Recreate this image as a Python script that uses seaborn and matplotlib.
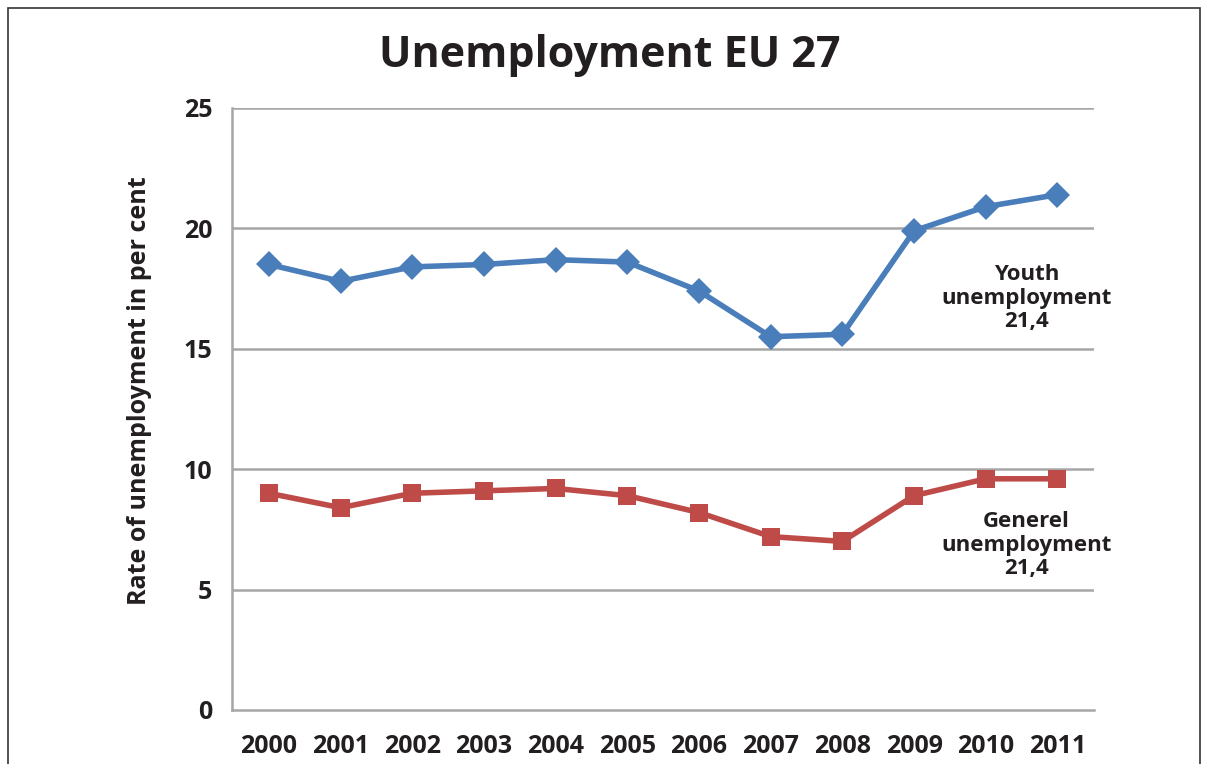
import pandas as pd
import matplotlib.pyplot as plt
import seaborn as sns
from matplotlib.patches import Rectangle

# Data
years = [2000, 2001, 2002, 2003, 2004, 2005, 2006, 2007, 2008, 2009, 2010, 2011]
youth = [18.5, 17.8, 18.4, 18.5, 18.7, 18.6, 17.4, 15.5, 15.6, 19.9, 20.9, 21.4]
general = [9.0, 8.4, 9.0, 9.1, 9.2, 8.9, 8.2, 7.2, 7.0, 8.9, 9.6, 9.6]
y_ticks = [0, 5, 10, 15, 20, 25]

df = pd.DataFrame({"year": years, "youth": youth, "general": general})

sns.set_style("white")
plt.rcParams["font.family"] = ["Open Sans", "DejaVu Sans"]
plt.rcParams["font.weight"] = "bold"

fig = plt.figure(figsize=(12.08, 7.64), dpi=100)
ax = fig.add_axes([0.192, 0.0707, 0.714, 0.788])

grid_color = "#a6a6a6"
for v in y_ticks[1:]:
    ax.axhline(v, color=grid_color, lw=1.8, zorder=0)

sns.lineplot(data=df, x="year", y="youth", ax=ax, color="#4a7ebb", lw=4,
             marker="D", markersize=13, markeredgewidth=0, zorder=3)
sns.lineplot(data=df, x="year", y="general", ax=ax, color="#be4b48", lw=4,
             marker="s", markersize=13, markeredgewidth=0, zorder=3)

ax.set_xlim(years[0] - 0.516, years[-1] + 0.516)
ax.set_ylim(0, 25)
ax.set_xticks(years)
ax.set_xticklabels([str(y) for y in years])
ax.set_yticks(y_ticks)
ax.tick_params(axis="both", length=0, labelsize=18, colors="#231f20")
ax.tick_params(axis="y", pad=14)
ax.tick_params(axis="x", pad=17)
for lab in ax.get_xticklabels() + ax.get_yticklabels():
    lab.set_fontweight("bold")

for side in ["top", "right"]:
    ax.spines[side].set_visible(False)
for side in ["left", "bottom"]:
    ax.spines[side].set_color(grid_color)
    ax.spines[side].set_linewidth(1.8)

ax.set_xlabel("")
ax.set_ylabel("Rate of unemployment in per cent", fontsize=18, fontweight="bold",
              color="#231f20")
ax.yaxis.set_label_coords(-0.093, 0.53)

ax.text(2010.57, 17.1, "Youth\nunemployment\n21,4", ha="center", va="center",
        fontsize=16, fontweight="bold", color="#231f20", linespacing=1.15)
ax.text(2010.57, 6.85, "Generel\nunemployment\n21,4", ha="center", va="center",
        fontsize=16, fontweight="bold", color="#231f20", linespacing=1.15)

fig.text(0.505, 0.928, "Unemployment EU 27", ha="center", va="center",
         fontsize=31, fontweight="bold", color="#231f20")

fig.patches.append(Rectangle((8 / 1208, -0.1), 1192 / 1208, 1.1 - 8 / 764,
                             transform=fig.transFigure, fill=False,
                             edgecolor="#333333", lw=1.2))

fig.savefig("out.png", dpi=100)
